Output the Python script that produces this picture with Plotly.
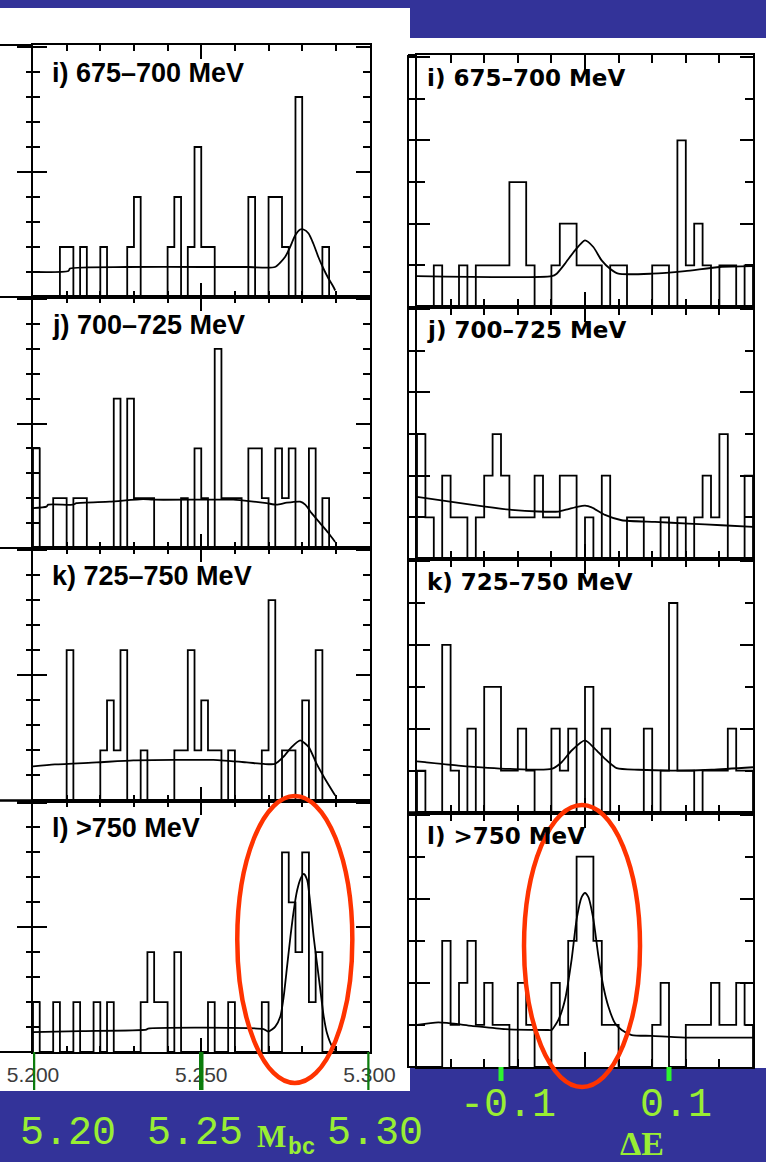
import numpy as np
import plotly.graph_objects as go

W, H = 766, 1162

# ---------------- data ----------------
PANEL_LABELS = ["i) 675–700 MeV", "j) 700–725 MeV", "k) 725–750 MeV", "l) >750 MeV"]

# Mbc histograms: events per 2 MeV bin from 5.200 to 5.300 GeV
MBC_LO, MBC_HI, MBC_BIN = 5.200, 5.300, 0.002
mbc_i = [0, 0, 0, 0, 1, 1, 0, 1, 0, 0,
         1, 0, 0, 0, 1, 2, 0, 0, 0, 0,
         1, 2, 0, 1, 3, 1, 1, 0, 0, 0,
         0, 0, 2, 0, 0, 2, 2, 1, 0, 4,
         0, 0, 0, 1, 0, 0, 0, 0, 0, 0]
mbc_j = [2, 0, 0, 1, 1, 0, 1, 1, 0, 0,
         0, 0, 3, 0, 3, 1, 1, 1, 0, 0,
         0, 0, 1, 0, 2, 1, 0, 4, 1, 1,
         1, 0, 2, 2, 1, 0, 2, 1, 2, 0,
         0, 2, 0, 1, 0, 0, 0, 0, 0, 0]
mbc_k = [0, 0, 0, 0, 0, 3, 0, 0, 0, 0,
         1, 2, 1, 3, 0, 0, 1, 0, 0, 0,
         0, 1, 1, 3, 1, 2, 1, 1, 0, 1,
         0, 0, 0, 0, 1, 4, 0, 1, 1, 0,
         2, 0, 3, 0, 0, 0, 0, 0, 0, 0]
mbc_l = [1, 0, 0, 1, 0, 0, 1, 0, 0, 1,
         0, 1, 0, 0, 0, 0, 1, 2, 1, 1,
         0, 2, 0, 0, 0, 0, 1, 0, 0, 1,
         0, 0, 0, 0, 1, 0, 0, 4, 3, 2,
         4, 1, 2, 0, 0, 0, 0, 0, 0, 0]

# Mbc fit curves (GeV, events/bin)
mbc_fit_i_x = [5.2000, 5.2105, 5.2110, 5.2278, 5.2500, 5.2640, 5.2719, 5.2749, 5.2764,
               5.2779, 5.2794, 5.2804, 5.2819, 5.2833, 5.2848, 5.2863, 5.2878, 5.2893, 5.2898]
mbc_fit_i_y = [0.50, 0.52, 0.57, 0.60, 0.60, 0.60, 0.60, 0.80, 1.00,
               1.23, 1.35, 1.35, 1.27, 1.07, 0.80, 0.57, 0.37, 0.20, 0.13]
mbc_fit_j_x = [5.2000, 5.2040, 5.2045, 5.2119, 5.2129, 5.2228, 5.2327, 5.2357, 5.2595,
               5.2615, 5.2694, 5.2724, 5.2754, 5.2794, 5.2809, 5.2828, 5.2853, 5.2878, 5.2898]
mbc_fit_j_y = [0.80, 0.83, 0.87, 0.87, 0.90, 0.93, 0.98, 0.97, 0.97,
               0.96, 0.90, 0.87, 0.91, 0.93, 0.87, 0.70, 0.50, 0.30, 0.12]
mbc_fit_k_x = [5.2000, 5.2065, 5.2189, 5.2298, 5.2417, 5.2536, 5.2635, 5.2685, 5.2719,
               5.2744, 5.2769, 5.2794, 5.2819, 5.2843, 5.2868, 5.2898]
mbc_fit_k_y = [0.68, 0.72, 0.76, 0.80, 0.81, 0.81, 0.76, 0.73, 0.73,
               0.87, 1.07, 1.20, 1.07, 0.73, 0.43, 0.10]
mbc_fit_l_x = [5.2000, 5.2139, 5.2337, 5.2342, 5.2685, 5.2700, 5.2720, 5.2735, 5.2745,
               5.2755, 5.2765, 5.2775, 5.2785, 5.2795, 5.2805, 5.2815, 5.2824, 5.2834,
               5.2844, 5.2854, 5.2864, 5.2874, 5.2889, 5.2899]
mbc_fit_l_y = [0.40, 0.42, 0.45, 0.47, 0.46, 0.41, 0.51, 0.71, 1.11,
               1.71, 2.31, 2.84, 3.24, 3.47, 3.57, 3.44, 2.97, 2.31,
               1.77, 1.24, 0.71, 0.37, 0.11, 0.03]

# Delta-E histograms: events per 10 MeV bin from -0.2 to 0.2 GeV
DE_LO, DE_HI, DE_BIN = -0.20, 0.20, 0.01
de_i = [0, 0, 1, 0, 0, 1, 0, 1, 1, 1,
        1, 3, 3, 1, 0, 0, 1, 2, 2, 1,
        1, 1, 0, 1, 1, 0, 0, 0, 1, 1,
        0, 4, 1, 2, 1, 0, 1, 1, 0, 1]
de_j = [3, 1, 0, 2, 1, 1, 0, 1, 2, 3,
        2, 1, 1, 1, 2, 1, 1, 2, 2, 0,
        1, 0, 2, 0, 0, 1, 1, 0, 0, 1,
        0, 1, 0, 1, 2, 1, 3, 0, 0, 2]
de_k = [1, 0, 0, 4, 1, 0, 2, 0, 3, 3,
        1, 1, 2, 1, 0, 0, 2, 1, 2, 0,
        3, 0, 2, 0, 0, 0, 0, 2, 0, 1,
        5, 1, 1, 0, 1, 1, 1, 2, 1, 1]
de_l = [0, 0, 0, 3, 1, 2, 3, 1, 2, 1,
        1, 0, 2, 1, 0, 0, 2, 1, 3, 5,
        5, 3, 1, 1, 0, 0, 0, 0, 1, 2,
        0, 0, 1, 1, 1, 2, 1, 1, 2, 1]

# Delta-E fit curves (GeV, events/bin)
de_fit_i_x = [-0.2000, -0.0397, -0.0337, -0.0238, -0.0119, 0.0000, 0.0099, 0.0198,
              0.0298, 0.0397, 0.0794, 0.1190, 0.1605, 0.2000]
de_fit_i_y = [0.74, 0.74, 0.80, 1.04, 1.36, 1.60, 1.44, 1.12,
              0.92, 0.80, 0.80, 0.86, 0.96, 0.98]
de_fit_j_x = [-0.2000, -0.1607, -0.1190, -0.0873, -0.0556, -0.0317, -0.0198, -0.0079,
              0.0000, 0.0079, 0.0238, 0.0437, 0.0833, 0.1230, 0.1627, 0.2000]
de_fit_j_y = [1.49, 1.38, 1.26, 1.18, 1.14, 1.14, 1.20, 1.26,
              1.28, 1.24, 1.06, 0.93, 0.89, 0.85, 0.81, 0.77]
de_fit_k_x = [-0.2000, -0.1905, -0.1508, -0.0893, -0.0397, -0.0278, -0.0159, 0.0000,
              0.0119, 0.0238, 0.0377, 0.0635, 0.1032, 0.1508, 0.2000]
de_fit_k_y = [1.22, 1.20, 1.12, 1.04, 1.04, 1.20, 1.48, 1.72,
              1.52, 1.28, 1.06, 1.02, 1.00, 1.02, 1.08]
de_fit_l_x = [-0.2000, -0.1746, -0.1349, -0.0952, -0.0437, -0.0397, -0.0317, -0.0238,
              -0.0159, -0.0099, -0.0040, 0.0000, 0.0040, 0.0099, 0.0159, 0.0218,
              0.0278, 0.0357, 0.0437, 0.0556, 0.0794, 0.1210, 0.1627, 0.2000]
de_fit_l_y = [1.00, 1.06, 0.98, 0.90, 0.88, 0.88, 1.12, 1.60,
              2.56, 3.52, 4.04, 4.14, 4.04, 3.52, 2.64, 1.92,
              1.44, 1.04, 0.88, 0.76, 0.74, 0.70, 0.70, 0.70]

MBC_MARKS = [5.20, 5.25, 5.30]
MBC_TEXT = ["5.20", "5.25", "5.30"]
DE_MARKS = [-0.1, 0.1]
DE_TEXT = ["-0.1", "0.1"]

# ---------------- styling / geometry ----------------
BLUE = "#333399"
LIME = "#99ee33"
RED = "#ff3300"
LEFT_X = (33, 369.5)
LEFT_Y = [(45, 297), (297, 548), (548, 800.5), (800.5, 1052)]
RIGHT_X = (417, 753)
RIGHT_Y = [(55, 307), (307, 559), (559, 812.5), (812.5, 1067)]
MBC_YMAX = 5.04
DE_YMAX = 6.05


def px(x):
    return x / W


def py(y):
    return 1 - y / H


def ax(n, kind):
    return kind if n == 1 else f"{kind}{n}"


def step_xy(lo, width, counts):
    edges = lo + width * np.arange(len(counts) + 1)
    xs = np.concatenate([[edges[0]], edges])
    ys = [0] + list(counts) + [0]
    return xs, ys


panels = []
mbc_sets = [(mbc_i, mbc_fit_i_x, mbc_fit_i_y), (mbc_j, mbc_fit_j_x, mbc_fit_j_y),
            (mbc_k, mbc_fit_k_x, mbc_fit_k_y), (mbc_l, mbc_fit_l_x, mbc_fit_l_y)]
de_sets = [(de_i, de_fit_i_x, de_fit_i_y), (de_j, de_fit_j_x, de_fit_j_y),
           (de_k, de_fit_k_x, de_fit_k_y), (de_l, de_fit_l_x, de_fit_l_y)]
for r, s in enumerate(mbc_sets):
    panels.append(dict(col="mbc", row=r, data=s))
for r, s in enumerate(de_sets):
    panels.append(dict(col="de", row=r, data=s))

fig = go.Figure()
layout = {}
annotations = []
shapes = []

common = dict(showgrid=False, zeroline=False, showline=True, linecolor="black",
              linewidth=2, tickcolor="black", tickwidth=1.5, mirror="ticks",
              ticks="inside", fixedrange=True, automargin=False)

for idx, p in enumerate(panels):
    n = idx + 1
    m = n + 8
    counts, fx, fy = p["data"]
    xa, ya = ax(n, "x"), ax(n, "y")
    if p["col"] == "mbc":
        xs, ys = step_xy(MBC_LO, MBC_BIN, counts)
        x0, x1 = LEFT_X
        y0, y1 = LEFT_Y[p["row"]]
        bottom = p["row"] == 3
        layout[f"xaxis{n}"] = dict(
            common, domain=[px(x0), px(x1)], range=[MBC_LO, MBC_HI], anchor=ya,
            tick0=MBC_LO, dtick=0.05, ticklen=14,
            minor=dict(dtick=0.01, tick0=MBC_LO, ticklen=6, ticks="inside",
                       tickcolor="black", tickwidth=1.5),
            showticklabels=bottom, tickformat=".3f", ticklabelstandoff=3,
            tickfont=dict(family="Liberation Sans", size=21, color="#3c3c3c"))
        layout[f"yaxis{n}"] = dict(
            common, domain=[py(y1), py(y0)], range=[0, MBC_YMAX], anchor=xa,
            tick0=0, dtick=2.5, ticklen=14,
            minor=dict(dtick=0.5, ticklen=7, ticks="inside", tickcolor="black", tickwidth=1.5),
            showticklabels=False)
        layout[f"yaxis{m}"] = dict(
            overlaying=ya, anchor=xa, side="left", range=[0, MBC_YMAX],
            showgrid=False, zeroline=False, showline=False, showticklabels=False,
            ticks="outside", ticklen=15, tickwidth=1.5, tickcolor="black",
            tick0=0, dtick=2.5, fixedrange=True, automargin=False,
            minor=dict(dtick=0.5, ticklen=6, ticks="outside", tickcolor="black", tickwidth=1.5))
        lab_x, lab_y = 0.05, 0.89
        lab_font = dict(family="Liberation Sans", size=27, color="black")
    else:
        xs, ys = step_xy(DE_LO, DE_BIN, counts)
        x0, x1 = RIGHT_X
        y0, y1 = RIGHT_Y[p["row"]]
        layout[f"xaxis{n}"] = dict(
            common, domain=[px(x0), px(x1)], range=[DE_LO, DE_HI], anchor=ya,
            tick0=0, dtick=0.2, ticklen=15,
            minor=dict(dtick=0.04, tick0=0, ticklen=8, ticks="inside",
                       tickcolor="black", tickwidth=1.5),
            showticklabels=False)
        layout[f"yaxis{n}"] = dict(
            common, domain=[py(y1), py(y0)], range=[0, DE_YMAX], anchor=xa,
            tick0=0, dtick=2, ticklen=13,
            minor=dict(dtick=1, ticklen=8, ticks="inside", tickcolor="black", tickwidth=1.5),
            showticklabels=False)
        layout[f"yaxis{m}"] = dict(
            overlaying=ya, anchor=xa, side="left", range=[0, DE_YMAX],
            showgrid=False, zeroline=False, showline=False, showticklabels=False,
            ticks="outside", ticklen=9, tickwidth=1.5, tickcolor="black",
            tick0=0, dtick=2, fixedrange=True, automargin=False,
            minor=dict(dtick=1, ticklen=7, ticks="outside", tickcolor="black", tickwidth=1.5))
        lab_x, lab_y = 0.024, 0.908
        lab_font = dict(family="DejaVu Sans", size=23, color="black")

    fig.add_trace(go.Scatter(x=xs, y=ys, mode="lines", xaxis=xa, yaxis=ya,
                             line=dict(color="black", width=1.8, shape="hv"),
                             hoverinfo="skip", showlegend=False))
    fig.add_trace(go.Scatter(x=fx, y=fy, mode="lines", xaxis=xa, yaxis=ya,
                             line=dict(color="black", width=1.8, shape="spline", smoothing=0.6),
                             hoverinfo="skip", showlegend=False))
    fig.add_trace(go.Scatter(x=[], y=[], mode="lines", xaxis=xa, yaxis=ax(m, "y"),
                             hoverinfo="skip", showlegend=False))
    annotations.append(dict(text="<b>" + PANEL_LABELS[p["row"]] + "</b>",
                            xref=f"{xa} domain", yref=f"{ya} domain",
                            x=lab_x, y=lab_y, xanchor="left", yanchor="middle",
                            showarrow=False, font=lab_font))

# white page areas on the blue slide
shapes.append(dict(type="rect", xref="paper", yref="paper", x0=px(0), x1=px(410),
                   y0=py(1091), y1=py(8), fillcolor="white", line=dict(width=0), layer="below"))
shapes.append(dict(type="rect", xref="paper", yref="paper", x0=px(410), x1=px(W),
                   y0=py(1068), y1=py(38), fillcolor="white", line=dict(width=0), layer="below"))

# frame lines of the neighbouring (cropped) plot columns
for y0, y1 in LEFT_Y:
    for yy in (y0, y1):
        shapes.append(dict(type="line", xref="paper", yref="paper", x0=px(0), x1=px(LEFT_X[0]),
                           y0=py(yy), y1=py(yy), line=dict(color="black", width=2)))
shapes.append(dict(type="line", xref="paper", yref="paper", x0=px(408), x1=px(408),
                   y0=py(RIGHT_Y[-1][1]), y1=py(RIGHT_Y[0][0]), line=dict(color="black", width=2)))
for y0, y1 in RIGHT_Y:
    for yy in (y0, y1):
        shapes.append(dict(type="line", xref="paper", yref="paper", x0=px(408), x1=px(RIGHT_X[0]),
                           y0=py(yy), y1=py(yy), line=dict(color="black", width=2)))

# green tick markers below the bottom panels
for v in MBC_MARKS:
    shapes.append(dict(type="line", xref="x4", yref="paper", x0=v, x1=v,
                       y0=py(1090), y1=py(1052), line=dict(color="#0c7c0c", width=4.5)))
for v in DE_MARKS:
    shapes.append(dict(type="line", xref="x8", yref="paper", x0=v, x1=v,
                       y0=py(1081), y1=py(1067), line=dict(color="#2ef52e", width=5)))

# red ellipses around the signal peaks
shapes.append(dict(type="circle", xref="x4", yref="paper", x0=5.2607, x1=5.2949,
                   y0=py(1083), y1=py(796), line=dict(color=RED, width=4.5), layer="above"))
shapes.append(dict(type="circle", xref="x8", yref="paper", x0=-0.0726, x1=0.0655,
                   y0=py(1087), y1=py(805), line=dict(color=RED, width=4.5), layer="above"))

# slide axis captions
mono = dict(family="Liberation Mono", size=40, color=LIME)
for txt, cx in zip(MBC_TEXT, [68, 195, 375]):
    annotations.append(dict(text=txt, xref="paper", yref="paper", x=px(cx), y=py(1133),
                            xanchor="center", yanchor="middle", showarrow=False, font=mono))
annotations.append(dict(text="<b>M</b>", xref="paper", yref="paper", x=px(271), y=py(1136),
                        xanchor="center", yanchor="middle", showarrow=False,
                        font=dict(family="Liberation Serif", size=31, color=LIME)))
annotations.append(dict(text="<b>bc</b>", xref="paper", yref="paper", x=px(302), y=py(1148),
                        xanchor="center", yanchor="middle", showarrow=False,
                        font=dict(family="Liberation Mono", size=23, color=LIME)))
for txt, cx in zip(DE_TEXT, [508, 675.5]):
    annotations.append(dict(text=txt, xref="paper", yref="paper", x=px(cx), y=py(1105),
                            xanchor="center", yanchor="middle", showarrow=False, font=mono))
annotations.append(dict(text="<b>ΔE</b>", xref="paper", yref="paper", x=px(642), y=py(1143),
                        xanchor="center", yanchor="middle", showarrow=False,
                        font=dict(family="Liberation Serif", size=34, color=LIME)))

fig.update_layout(
    width=W, height=H, autosize=False,
    margin=dict(l=0, r=0, t=0, b=0, pad=0, autoexpand=False),
    paper_bgcolor=BLUE, plot_bgcolor="white",
    showlegend=False,
    annotations=annotations, shapes=shapes,
    **layout,
)

fig.write_html("out.html", config={"displayModeBar": False})
